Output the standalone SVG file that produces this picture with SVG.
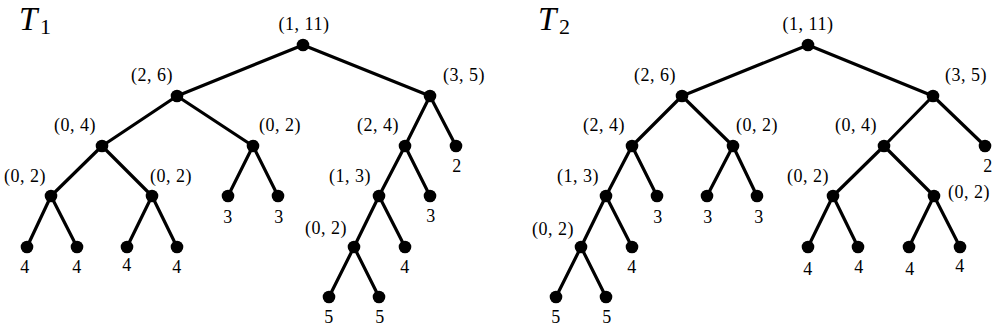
<svg xmlns="http://www.w3.org/2000/svg" width="997" height="328" viewBox="0 0 997 328">
<style>
.e{stroke:#000;stroke-width:3.2;stroke-linecap:round}
.n{fill:#000}
.l{font-family:"Liberation Serif","DejaVu Serif",serif;font-size:18px;letter-spacing:0.5px;text-anchor:middle;fill:#000}
.t{font-family:"Liberation Serif",serif;font-size:33px;font-style:italic;fill:#000}
.s{font-family:"Liberation Serif",serif;font-size:22px;fill:#000}
</style>
<rect width="997" height="328" fill="#fff"/>
<g id="titles">
<text class="t" x="19" y="30">T</text><text class="s" x="40" y="34">1</text>
<text class="t" x="538" y="30">T</text><text class="s" x="559" y="34">2</text>
</g>
<g id="connectors">
<line class="e" x1="303" y1="45" x2="177" y2="96"/><line class="e" x1="303" y1="45" x2="430" y2="96"/>
<line class="e" x1="177" y1="96" x2="102" y2="146"/><line class="e" x1="177" y1="96" x2="253" y2="146"/>
<line class="e" x1="430" y1="96" x2="405" y2="146"/><line class="e" x1="430" y1="96" x2="456" y2="146"/>
<line class="e" x1="102" y1="146" x2="51" y2="196"/><line class="e" x1="102" y1="146" x2="152" y2="196"/>
<line class="e" x1="253" y1="146" x2="228" y2="196"/><line class="e" x1="253" y1="146" x2="278" y2="196"/>
<line class="e" x1="405" y1="146" x2="379" y2="196"/><line class="e" x1="405" y1="146" x2="430" y2="196"/>
<line class="e" x1="51" y1="196" x2="27" y2="247"/><line class="e" x1="51" y1="196" x2="77" y2="247"/>
<line class="e" x1="152" y1="196" x2="127" y2="247"/><line class="e" x1="152" y1="196" x2="177" y2="247"/>
<line class="e" x1="379" y1="196" x2="354" y2="247"/><line class="e" x1="379" y1="196" x2="405" y2="247"/>
<line class="e" x1="354" y1="247" x2="329" y2="297"/><line class="e" x1="354" y1="247" x2="379" y2="297"/>
<line class="e" x1="808" y1="45" x2="682" y2="96"/><line class="e" x1="808" y1="45" x2="933" y2="96"/>
<line class="e" x1="682" y1="96" x2="632" y2="146"/><line class="e" x1="682" y1="96" x2="733" y2="146"/>
<line class="e" x1="933" y1="96" x2="884" y2="146"/><line class="e" x1="933" y1="96" x2="985" y2="146"/>
<line class="e" x1="632" y1="146" x2="606" y2="196"/><line class="e" x1="632" y1="146" x2="657" y2="196"/>
<line class="e" x1="733" y1="146" x2="707" y2="196"/><line class="e" x1="733" y1="146" x2="757" y2="196"/>
<line class="e" x1="884" y1="146" x2="833" y2="196"/><line class="e" x1="884" y1="146" x2="934" y2="196"/>
<line class="e" x1="606" y1="196" x2="581" y2="247"/><line class="e" x1="606" y1="196" x2="632" y2="247"/>
<line class="e" x1="833" y1="196" x2="808" y2="247"/><line class="e" x1="833" y1="196" x2="858" y2="247"/>
<line class="e" x1="934" y1="196" x2="909" y2="247"/><line class="e" x1="934" y1="196" x2="960" y2="247"/>
<line class="e" x1="581" y1="247" x2="556" y2="297"/><line class="e" x1="581" y1="247" x2="606" y2="297"/>
</g>
<!-- T1 nodes -->
<g id="t1-root"><circle class="n" cx="303" cy="45" r="6.3"/><text class="l" x="304" y="30">(1, 11)</text></g>
<g id="t1-n26"><circle class="n" cx="177" cy="96" r="6.3"/><text class="l" x="152" y="81">(2, 6)</text></g>
<g id="t1-n35"><circle class="n" cx="430" cy="96" r="6.3"/><text class="l" x="464" y="81">(3, 5)</text></g>
<g id="t1-n04"><circle class="n" cx="102" cy="146" r="6.3"/><text class="l" x="75" y="131">(0, 4)</text></g>
<g id="t1-n02a"><circle class="n" cx="253" cy="146" r="6.3"/><text class="l" x="280" y="131">(0, 2)</text></g>
<g id="t1-n24"><circle class="n" cx="405" cy="146" r="6.3"/><text class="l" x="378" y="131">(2, 4)</text></g>
<g id="t1-l2"><circle class="n" cx="456" cy="146" r="6.3"/><text class="l" x="457" y="172">2</text></g>
<g id="t1-n02b"><circle class="n" cx="51" cy="196" r="6.3"/><text class="l" x="25" y="182">(0, 2)</text></g>
<g id="t1-n02c"><circle class="n" cx="152" cy="196" r="6.3"/><text class="l" x="171" y="182">(0, 2)</text></g>
<g id="t1-l3a"><circle class="n" cx="228" cy="196" r="6.3"/><text class="l" x="228" y="223">3</text></g>
<g id="t1-l3b"><circle class="n" cx="278" cy="196" r="6.3"/><text class="l" x="279" y="223">3</text></g>
<g id="t1-n13"><circle class="n" cx="379" cy="196" r="6.3"/><text class="l" x="350" y="182">(1, 3)</text></g>
<g id="t1-l3c"><circle class="n" cx="430" cy="196" r="6.3"/><text class="l" x="431" y="222">3</text></g>
<g id="t1-l4a"><circle class="n" cx="27" cy="247" r="6.3"/><text class="l" x="25" y="273">4</text></g>
<g id="t1-l4b"><circle class="n" cx="77" cy="247" r="6.3"/><text class="l" x="77" y="273">4</text></g>
<g id="t1-l4c"><circle class="n" cx="127" cy="247" r="6.3"/><text class="l" x="127" y="271">4</text></g>
<g id="t1-l4d"><circle class="n" cx="177" cy="247" r="6.3"/><text class="l" x="177" y="273">4</text></g>
<g id="t1-n02d"><circle class="n" cx="354" cy="247" r="6.3"/><text class="l" x="326" y="234">(0, 2)</text></g>
<g id="t1-l4e"><circle class="n" cx="405" cy="247" r="6.3"/><text class="l" x="405" y="273">4</text></g>
<g id="t1-l5a"><circle class="n" cx="329" cy="297" r="6.3"/><text class="l" x="329" y="323">5</text></g>
<g id="t1-l5b"><circle class="n" cx="379" cy="297" r="6.3"/><text class="l" x="380" y="323">5</text></g>
<!-- T2 nodes -->
<g id="t2-root"><circle class="n" cx="808" cy="45" r="6.3"/><text class="l" x="808" y="30">(1, 11)</text></g>
<g id="t2-n26"><circle class="n" cx="682" cy="96" r="6.3"/><text class="l" x="655" y="81">(2, 6)</text></g>
<g id="t2-n35"><circle class="n" cx="933" cy="96" r="6.3"/><text class="l" x="966" y="81">(3, 5)</text></g>
<g id="t2-n24"><circle class="n" cx="632" cy="146" r="6.3"/><text class="l" x="604" y="131">(2, 4)</text></g>
<g id="t2-n02a"><circle class="n" cx="733" cy="146" r="6.3"/><text class="l" x="757" y="131">(0, 2)</text></g>
<g id="t2-n04"><circle class="n" cx="884" cy="146" r="6.3"/><text class="l" x="856" y="131">(0, 4)</text></g>
<g id="t2-l2"><circle class="n" cx="985" cy="146" r="6.3"/><text class="l" x="988" y="172">2</text></g>
<g id="t2-n13"><circle class="n" cx="606" cy="196" r="6.3"/><text class="l" x="578" y="182">(1, 3)</text></g>
<g id="t2-l3a"><circle class="n" cx="657" cy="196" r="6.3"/><text class="l" x="658" y="223">3</text></g>
<g id="t2-l3b"><circle class="n" cx="707" cy="196" r="6.3"/><text class="l" x="708" y="223">3</text></g>
<g id="t2-l3c"><circle class="n" cx="757" cy="196" r="6.3"/><text class="l" x="759" y="223">3</text></g>
<g id="t2-n02b"><circle class="n" cx="833" cy="196" r="6.3"/><text class="l" x="808" y="182">(0, 2)</text></g>
<g id="t2-n02c"><circle class="n" cx="934" cy="196" r="6.3"/><text class="l" x="969" y="198">(0, 2)</text></g>
<g id="t2-n02d"><circle class="n" cx="581" cy="247" r="6.3"/><text class="l" x="553" y="235">(0, 2)</text></g>
<g id="t2-l4a"><circle class="n" cx="632" cy="247" r="6.3"/><text class="l" x="632" y="273">4</text></g>
<g id="t2-l4b"><circle class="n" cx="808" cy="247" r="6.3"/><text class="l" x="808" y="275">4</text></g>
<g id="t2-l4c"><circle class="n" cx="858" cy="247" r="6.3"/><text class="l" x="859" y="273">4</text></g>
<g id="t2-l4d"><circle class="n" cx="909" cy="247" r="6.3"/><text class="l" x="910" y="275">4</text></g>
<g id="t2-l4e"><circle class="n" cx="960" cy="247" r="6.3"/><text class="l" x="960" y="272">4</text></g>
<g id="t2-l5a"><circle class="n" cx="556" cy="297" r="6.3"/><text class="l" x="556" y="323">5</text></g>
<g id="t2-l5b"><circle class="n" cx="606" cy="297" r="6.3"/><text class="l" x="607" y="323">5</text></g>
</svg>
